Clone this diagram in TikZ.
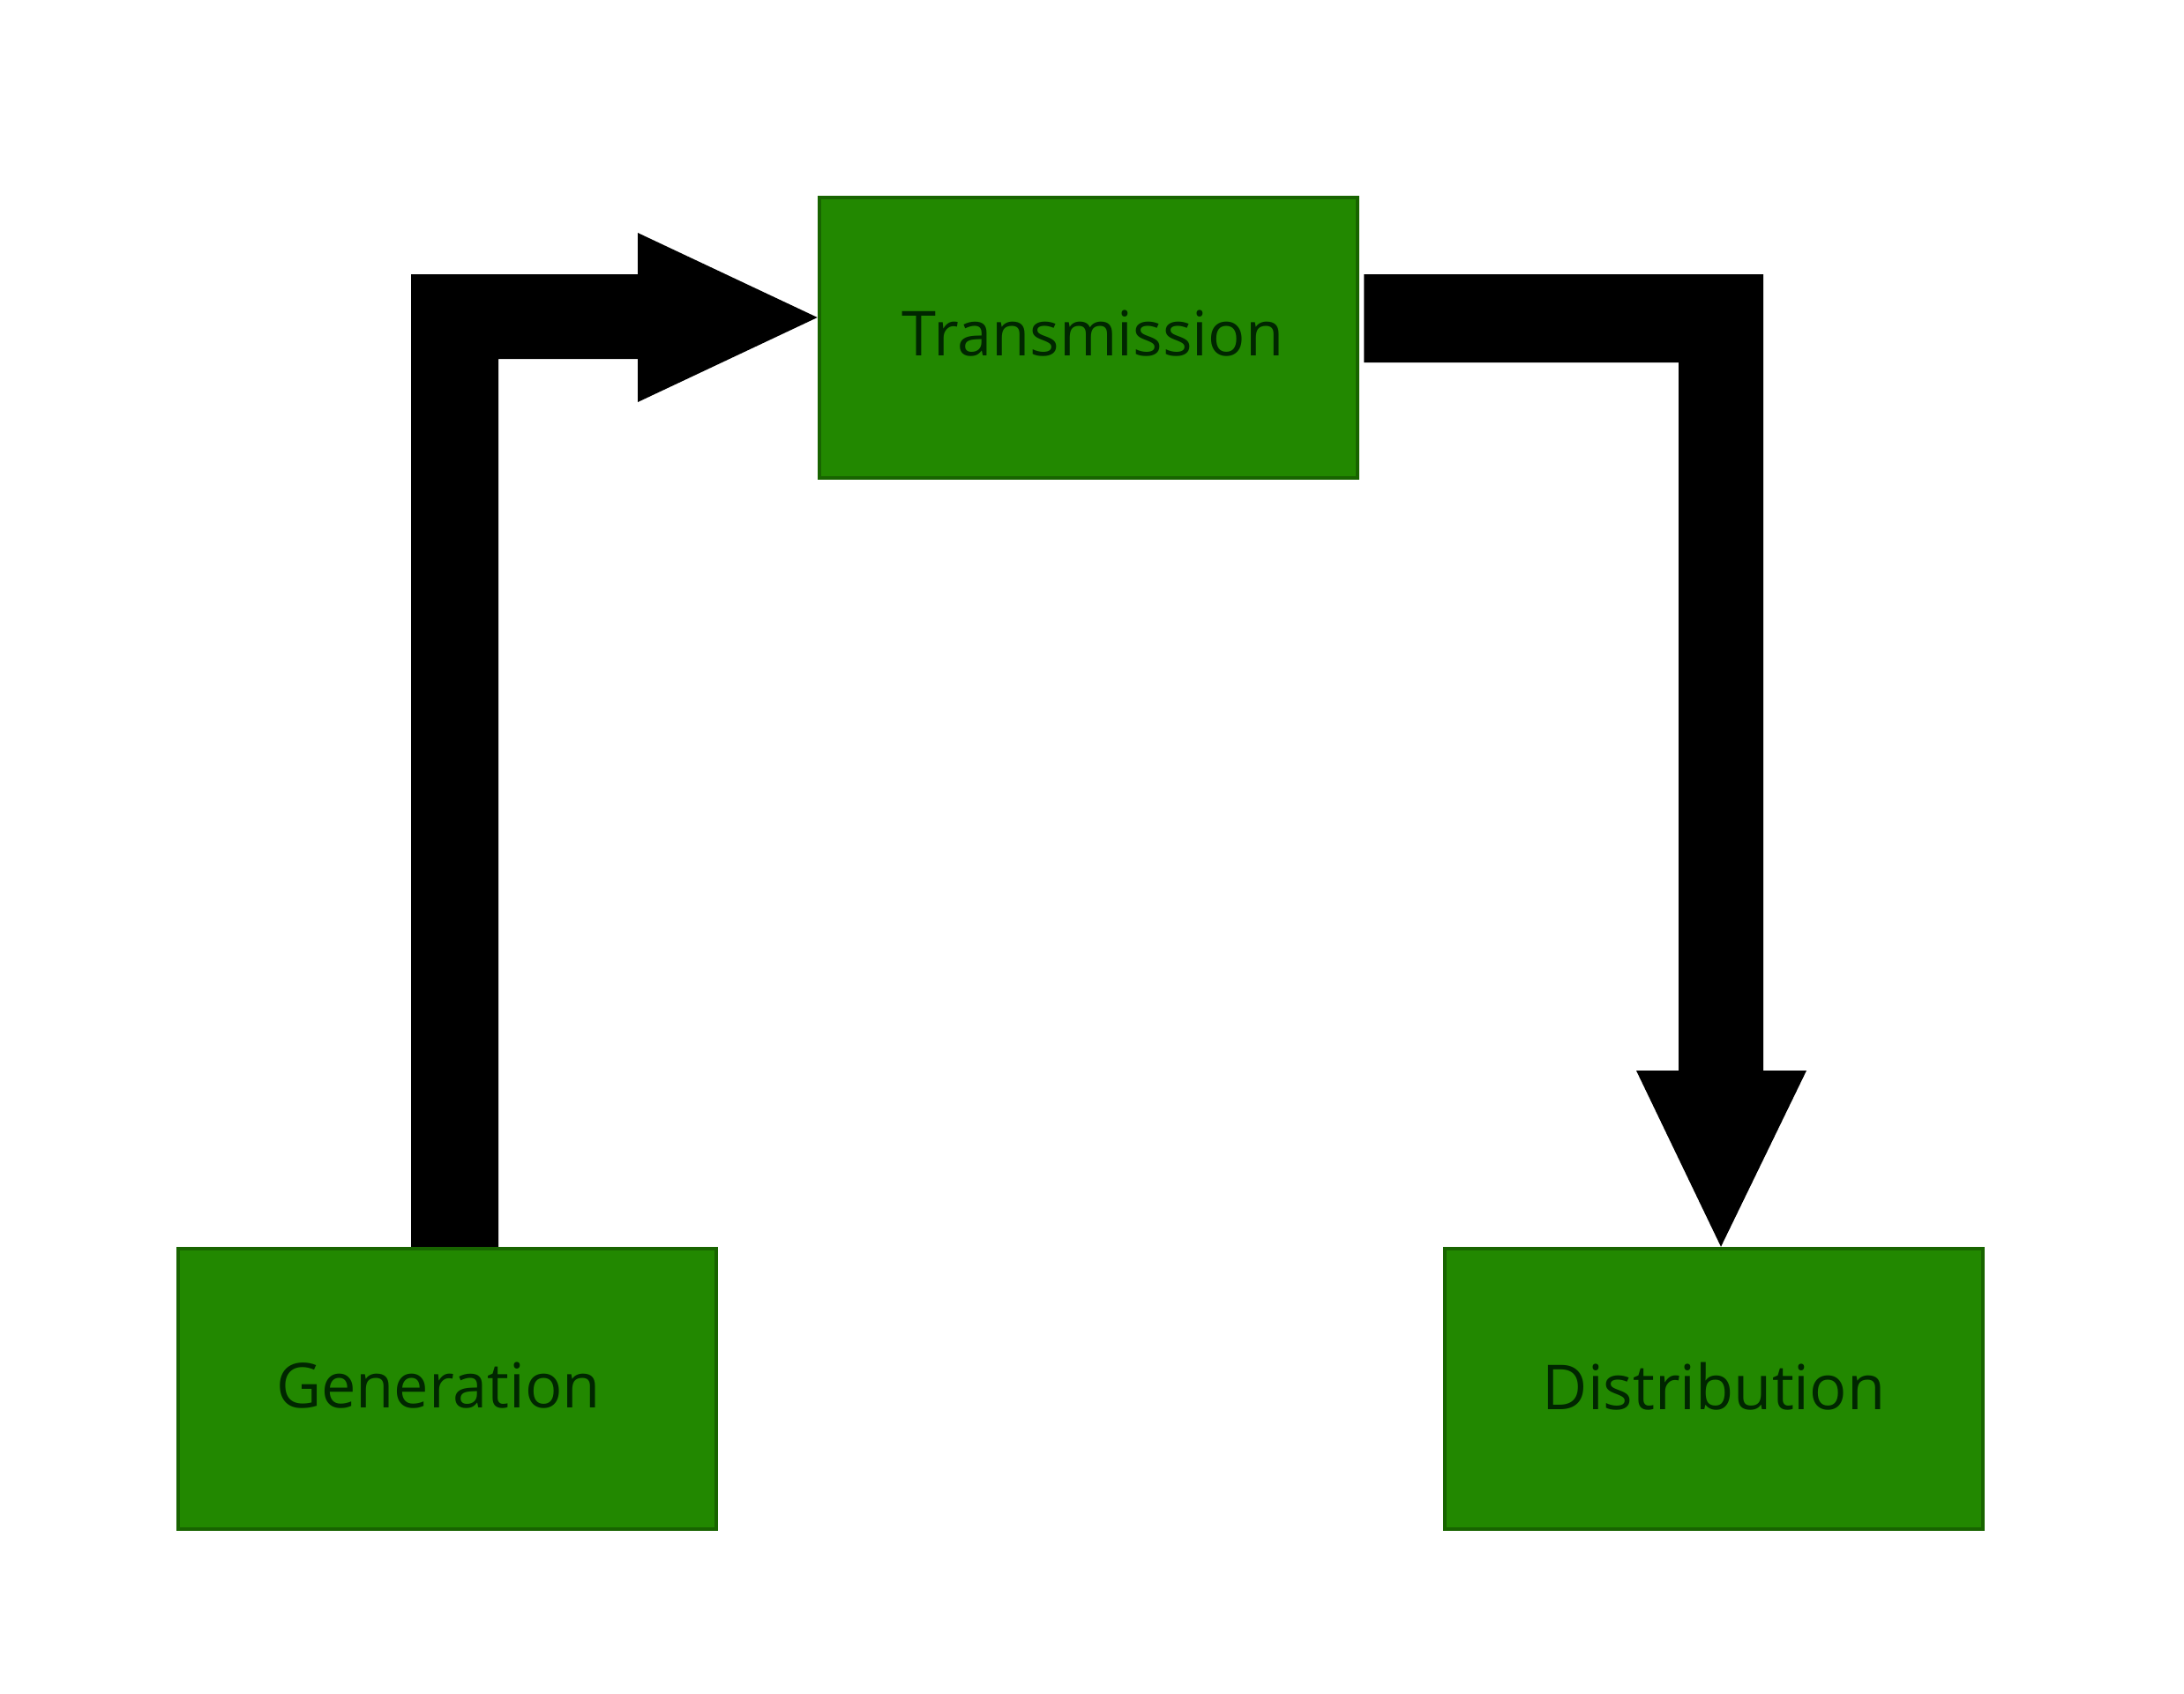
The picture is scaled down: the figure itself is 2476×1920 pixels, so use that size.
\documentclass[tikz,border=0pt]{standalone}
\usepackage{fontspec}
\setmainfont{Open Sans}
\usetikzlibrary{calc}
\definecolor{boxgreen}{RGB}{34,136,0}
\definecolor{boxedge}{RGB}{24,100,0}
\tikzset{
  greenbox/.style={draw=boxedge, line width=1.2pt, fill=boxgreen, minimum width=6.1cm,
    minimum height=3.18cm, inner sep=0pt, font=\fontsize{20}{24}\selectfont, text=black!85!green},
  blockarrow/.style={fill=black}
}
\begin{document}
\begin{tikzpicture}[x=0.01cm,y=-0.01cm]
\useasboundingbox (0,0) rectangle (2476,1920);
\fill[white] (0,0) rectangle (2476,1920);
\node[greenbox] (trans) at (1234,383) {\raisebox{0.1cm}{\hspace{0.1cm}Transmission}};
\node[greenbox] (gen) at (507,1575) {\raisebox{0.08cm}{Generation\hspace{0.2cm}}};
\node[greenbox] (dist) at (1943,1575) {\raisebox{0.06cm}{Distribution}};
% arrow Generation -> Transmission
\fill[blockarrow] (466,0 |- gen.north) -- (466,311) -- (723,311) -- (723,264)
  -- (trans.west |- 0,360) -- (723,456) -- (723,407) -- (565,407)
  -- (565,0 |- gen.north) -- cycle;
% arrow Transmission -> Distribution
\fill[blockarrow] ($(trans.east |- 0,311)+(5,0)$) -- (1999,311) -- (1999,1214) -- (2048,1214)
  -- (1951,0 |- dist.north) -- (1855,1214) -- (1903,1214) -- (1903,411)
  -- ($(trans.east |- 0,411)+(5,0)$) -- cycle;
\end{tikzpicture}
\end{document}
